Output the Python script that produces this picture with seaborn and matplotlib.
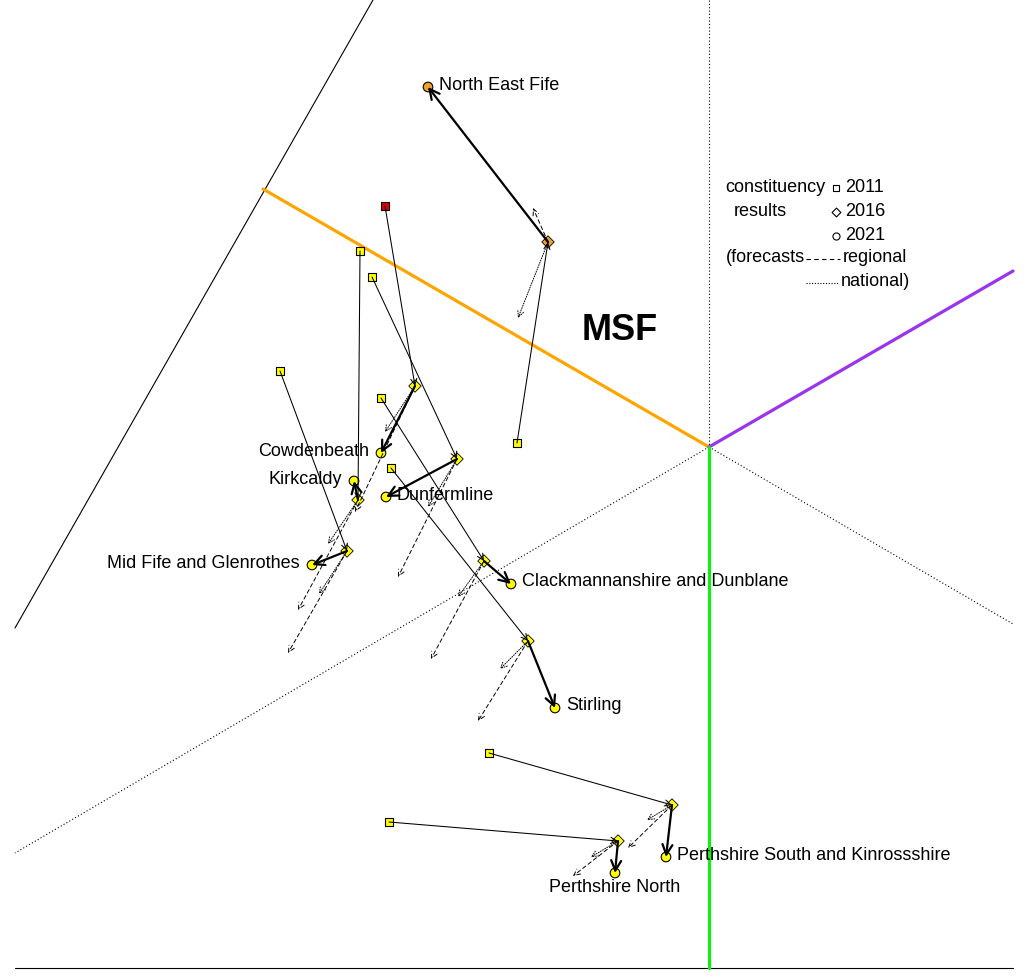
import pandas as pd
import matplotlib.pyplot as plt
import seaborn as sns

# constituencies of the Mid Scotland and Fife region (MSF)
names = ["North East Fife", "Cowdenbeath", "Kirkcaldy", "Dunfermline",
         "Mid Fife and Glenrothes", "Clackmannanshire and Dunblane", "Stirling",
         "Perthshire South and Kinrossshire", "Perthshire North"]

# positions (pixel-like chart units, y down)
x2011 = [517, 385, 360, 372, 280, 381, 391, 489, 389]
y2011 = [443, 206, 251, 277, 371, 398, 468, 753, 822]
x2016 = [548, 415, 358, 457, 347, 484, 528, 672, 618]
y2016 = [242, 386, 500, 459, 551, 561, 641, 805, 841]
x2021 = [428, 381, 354, 386, 312, 511, 555, 666, 615]
y2021 = [87, 453, 481, 497, 565, 584, 708, 857, 873]
x_regional = [533, 355, 298, 398, 288, 431, 478, 628, 573]
y_regional = [208, 512, 610, 577, 653, 659, 721, 848, 876]
x_national = [518, 385, 328, 428, 319, 458, 500, 647, 591]
y_national = [318, 432, 544, 507, 594, 597, 669, 820, 857]

winner2011 = ["SNP", "LAB", "SNP", "SNP", "SNP", "SNP", "SNP", "SNP", "SNP"]
winner2016 = ["LD", "SNP", "SNP", "SNP", "SNP", "SNP", "SNP", "SNP", "SNP"]
winner2021 = ["LD", "SNP", "SNP", "SNP", "SNP", "SNP", "SNP", "SNP", "SNP"]

party_colours = {"SNP": "#ffff00", "LAB": "#dd0000", "LD": "#f0a030"}

# frame of the chart
orange_x, orange_y = [263, 709], [189, 447]
purple_x, purple_y = [709, 1013], [447, 271]
green_x, green_y = [709, 709], [447, 968]
edge_x, edge_y = [373, 15], [0, 628]
base_x, base_y = [15, 1013], [968, 968]
dotted_segments = [([709, 709], [0, 447]), ([709, 1013], [447, 624]), ([709, 15], [447, 853])]

# label placement: side of the 2021 marker
label_side = ["right", "left", "left", "right", "left", "right", "right", "right", "below"]

df = pd.DataFrame({"name": names, "x2011": x2011, "y2011": y2011,
                   "x2016": x2016, "y2016": y2016, "x2021": x2021, "y2021": y2021,
                   "w2011": winner2011, "w2016": winner2016, "w2021": winner2021})

sns.set_style("white")
plt.rcParams['font.family'] = ['Liberation Sans', 'DejaVu Sans']
plt.rcParams['text.color'] = 'black'

fig = plt.figure(figsize=(10.29, 9.77), dpi=100)
ax = fig.add_axes([0, 0, 1, 1])

sns.lineplot(x=edge_x, y=edge_y, sort=False, estimator=None, color="black", lw=0.8, ax=ax)
sns.lineplot(x=base_x, y=base_y, sort=False, estimator=None, color="black", lw=0.8, ax=ax)
for sx, sy in dotted_segments:
    ax.plot(sx, sy, color="black", lw=0.8, ls=(0, (1, 2)))
sns.lineplot(x=orange_x, y=orange_y, sort=False, estimator=None, color="#ffa500", lw=2.3, ax=ax)
sns.lineplot(x=purple_x, y=purple_y, sort=False, estimator=None, color="#9933ee", lw=2.3, ax=ax)
sns.lineplot(x=green_x, y=green_y, sort=False, estimator=None, color="#11ee11", lw=2.3, ax=ax)

# markers
sns.scatterplot(data=df, x="x2011", y="y2011", hue="w2011", palette=party_colours, marker="s",
                s=40, edgecolor="black", linewidth=0.8, legend=False, ax=ax, zorder=3)
sns.scatterplot(data=df, x="x2016", y="y2016", hue="w2016", palette=party_colours, marker="D",
                s=40, edgecolor="black", linewidth=0.6, legend=False, ax=ax, zorder=3)
sns.scatterplot(data=df, x="x2021", y="y2021", hue="w2021", palette=party_colours, marker="o",
                s=48, edgecolor="black", linewidth=0.8, legend=False, ax=ax, zorder=3)

def arrow(x0, y0, x1, y1, lw, ls="-", scale=10):
    ax.annotate("", xy=(x1, y1), xytext=(x0, y0), zorder=4,
                arrowprops=dict(arrowstyle="->", color="black", lw=lw, ls=ls,
                                shrinkA=0, shrinkB=0, mutation_scale=scale))

for i in range(len(names)):
    arrow(x2011[i], y2011[i], x2016[i], y2016[i], 0.75, scale=11)
    arrow(x2016[i], y2016[i], x_regional[i], y_regional[i], 0.7, ls=(0, (4, 3)), scale=11)
    arrow(x2016[i], y2016[i], x_national[i], y_national[i], 0.7, ls=(0, (1, 1.5)), scale=11)
    arrow(x2016[i], y2016[i], x2021[i], y2021[i], 1.6, scale=18)

    side = label_side[i]
    if side == "right":
        ax.text(x2021[i] + 11, y2021[i] - 2, names[i], ha="left", va="center", fontsize=13)
    elif side == "left":
        ax.text(x2021[i] - 12, y2021[i] - 2, names[i], ha="right", va="center", fontsize=13)
    else:
        ax.text(x2021[i], y2021[i] + 15, names[i], ha="center", va="center", fontsize=13)

ax.text(620, 330, "MSF", fontsize=26, fontweight="bold", ha="center", va="center")

# key
ax.text(775, 188, "constituency", ha="center", va="center", fontsize=13)
ax.text(760, 212, "results", ha="center", va="center", fontsize=13)
ax.scatter([836], [188], marker="s", s=22, facecolor="white", edgecolor="black", lw=0.8)
ax.scatter([836], [212], marker="D", s=20, facecolor="white", edgecolor="black", lw=0.8)
ax.scatter([836], [236], marker="o", s=26, facecolor="white", edgecolor="black", lw=0.8)
ax.text(845, 188, "2011", ha="left", va="center", fontsize=13)
ax.text(845, 212, "2016", ha="left", va="center", fontsize=13)
ax.text(845, 236, "2021", ha="left", va="center", fontsize=13)
ax.text(726, 258, "(forecasts", ha="left", va="center", fontsize=13)
ax.plot([806, 840], [259, 259], color="black", lw=0.8, ls=(0, (4, 3)))
ax.text(843, 258, "regional", ha="left", va="center", fontsize=13)
ax.plot([806, 838], [283, 283], color="black", lw=0.8, ls=(0, (1, 1.5)))
ax.text(841, 281, "national)", ha="left", va="center", fontsize=13)

ax.set_xlim(0, 1029)
ax.set_ylim(977, 0)
ax.axis("off")

fig.savefig("out.png", dpi=100, facecolor="white")
